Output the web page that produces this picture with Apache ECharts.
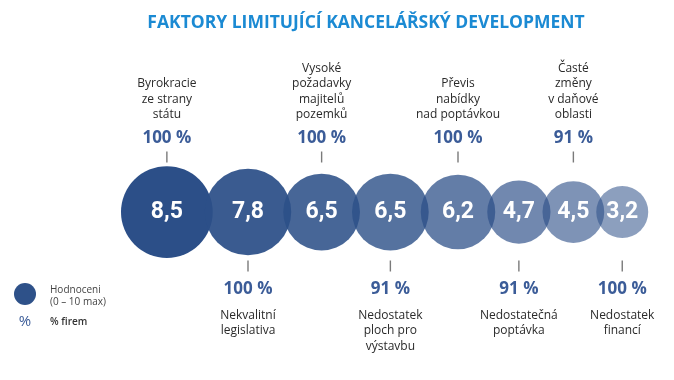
<!DOCTYPE html>
<html>
<head>
<meta charset="utf-8">
<script src="https://cdn.jsdelivr.net/npm/echarts@6/dist/echarts.min.js"></script>
<style>html,body{margin:0;padding:0;background:#fff}#c{width:674px;height:380px}</style>
</head>
<body>
<div id="c"></div>
<script>
// ---- data ----
const categories = [
  'Byrokracie\nze strany\nstátu',
  'Nekvalitní\nlegislativa',
  'Vysoké\npožadavky\nmajitelů\npozemků',
  'Nedostatek\nploch pro\nvýstavbu',
  'Převis\nnabídky\nnad poptávkou',
  'Nedostatečná\npoptávka',
  'Časté\nzměny\nv daňové\noblasti',
  'Nedostatek\nfinancí'
];
const ratings = [8.5, 7.8, 6.5, 6.5, 6.2, 4.7, 4.5, 3.2];
const firmShare = [100, 100, 100, 91, 100, 91, 91, 100];
const titleText = 'FAKTORY LIMITUJÍCÍ KANCELÁŘSKÝ DEVELOPMENT';

// ---- layout helpers (visual size mapping) ----
const radius = v => 14 + 3.75 * v;
const overlap = 8;
const xs = [];
ratings.forEach((v, i) => {
  if (i === 0) xs.push(radius(v));
  else xs.push(xs[i - 1] + radius(ratings[i - 1]) + radius(v) - overlap);
});
const fmt = v => String(v).replace('.', ',');

const bubbleData = ratings.map((v, i) => ({
  value: [xs[i], 0, v],
  symbolSize: 2 * radius(v),
  itemStyle: { color: 'rgba(44,79,136,' + (1 - i * 0.065).toFixed(3) + ')', opacity: 1 }
}));

const annData = ratings.map((v, i) => {
  const top = i % 2 === 0;
  const lines = categories[i].split('\n').map(s => '{n|' + s + '}');
  return {
    value: [xs[i], 0],
    symbolOffset: [0, top ? -55 : 54],
    label: top
      ? { position: 'top', distance: -3, formatter: lines.concat(['{p|' + firmShare[i] + ' %}']).join('\n') }
      : { position: 'bottom', distance: 0, formatter: ['{q|' + firmShare[i] + ' %}'].concat(lines).join('\n') }
  };
});

const chart = echarts.init(document.getElementById('c'), null, { renderer: 'canvas' });
chart.setOption({
  backgroundColor: '#fff',
  animation: false,
  title: {
    text: titleText,
    left: 361, top: 9, textAlign: 'center',
    textStyle: { color: '#1b8ad3', fontFamily: 'Open Sans', fontWeight: 'bold', fontSize: 17.5 }
  },
  grid: { left: 121, right: 0, top: 44, bottom: 0 },
  xAxis: { type: 'value', min: 0, max: 553, show: false },
  yAxis: { type: 'value', min: -1, max: 1, show: false },
  series: [
    {
      type: 'scatter',
      data: bubbleData,
      itemStyle: { opacity: 1 },
      emphasis: { disabled: true },
      label: {
        show: true, position: 'inside',
        formatter: p => fmt(p.value[2]),
        color: '#fff', fontFamily: 'Roboto', fontWeight: 'bold', fontSize: 23
      },
      z: 2
    },
    {
      type: 'scatter',
      symbol: 'rect',
      symbolSize: [1.4, 11],
      itemStyle: { color: '#7a7a7a', opacity: 1 },
      emphasis: { disabled: true },
      data: annData,
      label: {
        show: true, align: 'center',
        rich: {
          n: { fontFamily: 'Open Sans', fontSize: 12, lineHeight: 15.5, color: '#2a2a2a', align: 'center' },
          p: { fontFamily: 'Open Sans', fontSize: 17, fontWeight: 'bold', lineHeight: 32, color: '#3b5c98', align: 'center' },
          q: { fontFamily: 'Open Sans', fontSize: 17, fontWeight: 'bold', lineHeight: 36, color: '#3b5c98', align: 'center' }
        }
      },
      z: 3
    }
  ],
  graphic: [
    { type: 'circle', shape: { cx: 25, cy: 294, r: 11 }, style: { fill: '#2e5189' } },
    { type: 'text', x: 25, y: 322, style: { text: '%', fill: '#3b5c98', font: '15px "Open Sans"', textAlign: 'center', textVerticalAlign: 'middle' } },
    { type: 'text', x: 50, y: 290, style: { text: 'Hodnoceni', fill: '#444', font: '10px "Open Sans"', textVerticalAlign: 'middle' } },
    { type: 'text', x: 50, y: 302, style: { text: '(0 – 10 max)', fill: '#444', font: '10px "Open Sans"', textVerticalAlign: 'middle' } },
    { type: 'text', x: 50, y: 322, style: { text: '% firem', fill: '#333', font: '600 10px "Open Sans"', textVerticalAlign: 'middle' } }
  ]
});
</script>
</body>
</html>
